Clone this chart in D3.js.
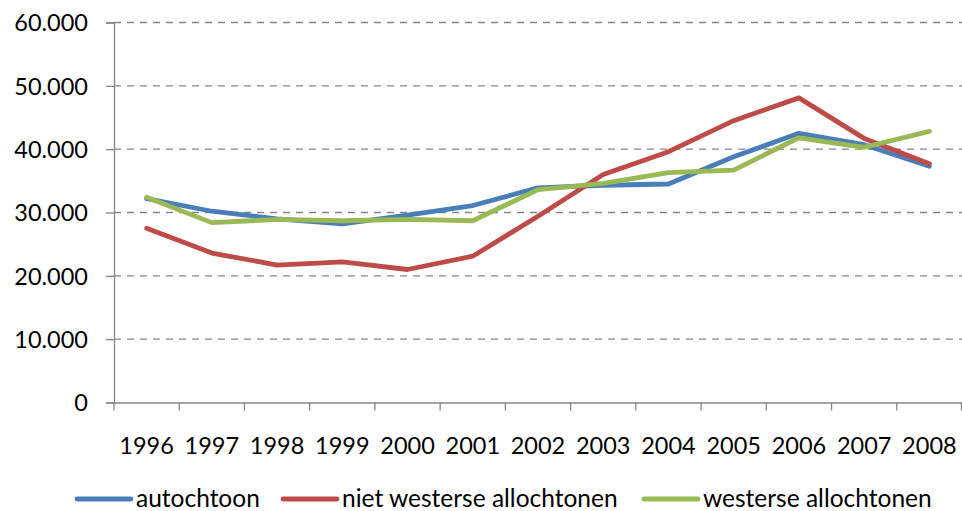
<!DOCTYPE html>
<html><head><meta charset="utf-8">
<script src="https://cdn.jsdelivr.net/npm/d3@7/dist/d3.min.js"></script>
<style>body{margin:0;background:#fff}svg{display:block}text{font-family:Lato,"Open Sans",sans-serif;fill:#000}</style>
</head><body><svg id="c" width="962" height="511"></svg>
<script>
const years = ["1996","1997","1998","1999","2000","2001","2002","2003","2004","2005","2006","2007","2008"];
const autochtoon = [32200,30200,29000,28200,29600,31100,33900,34300,34500,38800,42500,40700,37300];
const nietWesterse = [27500,23600,21700,22200,21000,23100,29400,36000,39600,44500,48100,41700,37700];
const westerse = [32400,28400,28900,28700,28900,28700,33600,34600,36300,36700,41800,40300,42800];
const seriesNames = ["autochtoon","niet westerse allochtonen","westerse allochtonen"];
const colors = ["#4A7EBB","#BE4B48","#98B954"];
const yTicks = [0,10000,20000,30000,40000,50000,60000];

const svg = d3.select("#c");
const x = d3.scaleBand().domain(years).range([114,962]);
const y = d3.scaleLinear().domain([0,60000]).range([402.5,22.5]);
const fmt = v => v===0 ? "0" : d3.format(",")(v).replace(/,/g,".");

// gridlines
svg.append("g").selectAll("line").data(yTicks.filter(d=>d>0)).join("line")
  .attr("x1",114).attr("x2",962).attr("y1",d=>y(d)).attr("y2",d=>y(d))
  .attr("stroke","#868686").attr("stroke-width",1.3).attr("stroke-dasharray","7,6");

// y axis
const ya = svg.append("g").attr("transform","translate(114,0)")
  .call(d3.axisLeft(y).tickValues(yTicks).tickSize(8).tickPadding(18).tickFormat(fmt));
ya.select(".domain").attr("stroke","#868686").attr("stroke-width",1.3);
ya.selectAll(".tick line").attr("stroke","#868686").attr("stroke-width",1.3);
ya.selectAll("text").attr("font-size","23.5px").attr("font-family","Lato").attr("fill","#000").attr("dy","0.36em");

// x axis
const xa = svg.append("g").attr("transform","translate(0,402.5)")
  .call(d3.axisBottom(x).tickSize(0).tickPadding(0));
xa.select(".domain").attr("stroke","#868686").attr("stroke-width",1.3);
xa.selectAll(".tick line").remove();
xa.selectAll(".tick text").attr("font-size","23.5px").attr("font-family","Lato").attr("fill","#000").attr("y",51.5).attr("dy",0);
svg.append("g").selectAll("line").data(years.concat(["end"])).join("line")
  .attr("x1",(d,i)=> i<years.length ? x(d) : x.range()[1]-0.5)
  .attr("x2",(d,i)=> i<years.length ? x(d) : x.range()[1]-0.5)
  .attr("y1",402.5).attr("y2",410.5).attr("stroke","#868686").attr("stroke-width",1.3);

// lines
const data = [autochtoon,nietWesterse,westerse];
const line = d3.line().x((d,i)=>x(years[i])+x.bandwidth()/2).y(d=>y(d));
svg.append("g").selectAll("path").data(data).join("path")
  .attr("d",line).attr("fill","none").attr("stroke",(d,i)=>colors[i])
  .attr("stroke-width",4.8).attr("stroke-linejoin","round").attr("stroke-linecap","round");

// legend
const lx = [77,283,644];
const lg = svg.append("g");
seriesNames.forEach((n,i)=>{
  lg.append("line").attr("x1",lx[i]).attr("x2",lx[i]+54).attr("y1",499).attr("y2",499)
    .attr("stroke",colors[i]).attr("stroke-width",4.8).attr("stroke-linecap","round");
  lg.append("text").attr("x",lx[i]+59).attr("y",506.5).attr("font-size","24.5px").text(n);
});
</script></body></html>
